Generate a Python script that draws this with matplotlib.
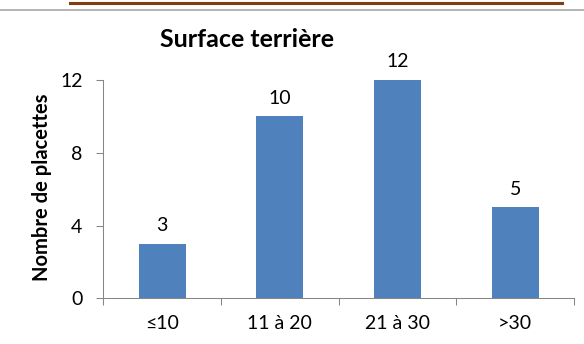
import matplotlib.pyplot as plt
from matplotlib.lines import Line2D
import numpy as np

# --- Data ---
categories = ['≤10', '11 à 20', '21 à 30', '>30']
counts = [3, 10, 12, 5]
y_ticks = [0, 4, 8, 12]

plt.rcParams['font.family'] = ['Lato', 'DejaVu Sans']

bar_color = '#4F81BD'
axis_color = '#868686'

fig = plt.figure(figsize=(5.84, 3.44), dpi=100)
ax = fig.add_axes([0.1769, 0.1329, 0.806, 0.6346])

x = np.arange(len(categories))
ax.bar(x, counts, width=0.4, color=bar_color, zorder=2)

# value labels above bars
for xi, v in zip(x, counts):
    ax.annotate(str(v), xy=(xi, v), xytext=(0, 9), textcoords='offset points',
                ha='center', va='baseline', fontsize=14)

ax.set_xlim(-0.5, len(categories) - 0.5)
ax.set_ylim(0, 12)

# major ticks at category boundaries, labels on minor ticks
ax.set_xticks(np.arange(-0.5, len(categories), 1.0))
ax.set_xticklabels([])
ax.set_xticks(x, minor=True)
ax.set_xticklabels(categories, minor=True, fontsize=14)
ax.tick_params(axis='x', which='major', direction='out', length=5,
               width=0.75, color=axis_color)
ax.tick_params(axis='x', which='minor', length=0, pad=12)

ax.set_yticks(y_ticks)
ax.set_yticklabels([str(t) for t in y_ticks], fontsize=14)
ax.tick_params(axis='y', direction='out', length=5, width=0.75,
               color=axis_color, pad=10)

for side in ['top', 'right']:
    ax.spines[side].set_visible(False)
for side in ['left', 'bottom']:
    ax.spines[side].set_color(axis_color)
    ax.spines[side].set_linewidth(0.75)

# y axis title placed in figure coords
fig.text(42.5 / 584, 1 - 187.5 / 344, 'Nombre de placettes', rotation=90,
         ha='center', va='center', fontsize=14.5, fontweight='bold')

fig.text(0.4236, 0.8643, 'Surface terrière', ha='center', va='baseline',
         fontsize=18, fontweight='bold')

# page rules at the top of the image
fig.add_artist(Line2D([70 / 584, 562 / 584], [0.9927, 0.9927],
                      transform=fig.transFigure, color='#843C0C', linewidth=2.2))
fig.add_artist(Line2D([0, 1], [0.9709, 0.9709],
                      transform=fig.transFigure, color='#B3B3B3', linewidth=1.4))

fig.savefig('out.png', dpi=100)
